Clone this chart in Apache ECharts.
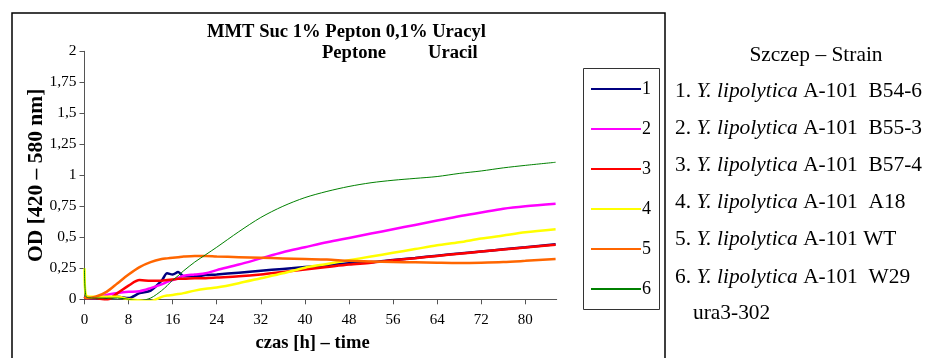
<!DOCTYPE html>
<html>
<head>
<meta charset="utf-8">
<script src="https://cdn.jsdelivr.net/npm/echarts@6/dist/echarts.min.js"></script>
<style>
  html, body { margin: 0; padding: 0; background: #fff; }
  #chart { width: 927px; height: 358px; }
</style>
</head>
<body>
<div id="chart"></div>
<script>
// sampling times [h]
const hours = [0, 0.3, 2, 4, 6, 8, 10, 12, 14, 15, 16, 17, 18, 20, 22, 24, 28, 32, 36, 40, 44, 48, 52, 56, 60, 64, 68, 72, 76, 80, 85.5]

// OD readings, one array per strain
const strain1 = [0.01, 0.01, 0.01, 0.01, 0.02, 0.01, 0.05, 0.07, 0.15, 0.21, 0.2, 0.22, 0.185, 0.185, 0.195, 0.2, 0.215, 0.23, 0.245, 0.26, 0.275, 0.29, 0.3, 0.317, 0.334, 0.352, 0.369, 0.386, 0.403, 0.42, 0.444]
const strain2 = [0.02, 0.01, 0.01, 0.035, 0.05, 0.06, 0.065, 0.09, 0.12, 0.14, 0.155, 0.17, 0.19, 0.2, 0.21, 0.235, 0.28, 0.33, 0.38, 0.42, 0.46, 0.495, 0.53, 0.565, 0.6, 0.635, 0.67, 0.7, 0.73, 0.75, 0.77]
const strain3 = [0.02, 0.01, 0.01, -0.005, 0.05, 0.11, 0.155, 0.15, 0.15, 0.155, 0.16, 0.165, 0.165, 0.17, 0.17, 0.175, 0.185, 0.2, 0.22, 0.24, 0.26, 0.28, 0.295, 0.315, 0.332, 0.35, 0.367, 0.385, 0.402, 0.418, 0.44]
const strain4 = [0.25, 0.03, 0.02, 0.02, 0.02, 0, -0.01, -0.015, 0.02, 0.03, 0.035, 0.042, 0.05, 0.07, 0.085, 0.095, 0.13, 0.17, 0.21, 0.255, 0.285, 0.315, 0.345, 0.375, 0.405, 0.435, 0.46, 0.49, 0.515, 0.54, 0.565]
const strain5 = [0.02, 0.01, 0.02, 0.06, 0.13, 0.2, 0.26, 0.3, 0.325, 0.33, 0.335, 0.34, 0.345, 0.35, 0.35, 0.345, 0.34, 0.335, 0.33, 0.325, 0.32, 0.31, 0.305, 0.3, 0.298, 0.295, 0.293, 0.295, 0.3, 0.31, 0.325]
const strain6 = [0.25, 0.02, 0.01, 0.01, 0.01, 0, -0.01, 0.01, 0.07, 0.11, 0.155, 0.19, 0.23, 0.3, 0.36, 0.42, 0.545, 0.66, 0.75, 0.82, 0.87, 0.91, 0.94, 0.96, 0.975, 0.99, 1.015, 1.035, 1.06, 1.08, 1.105]

const seriesNames = ["1", "2", "3", "4", "5", "6"]
const seriesColors = ["#000080", "#ff00ff", "#ff0000", "#ffff00", "#ff6600", "#008000"]
const seriesWidths = [2.5, 2.5, 2.5, 2.5, 2.5, 1]
const seriesValues = [strain1, strain2, strain3, strain4, strain5, strain6]

const xTicks = [0, 8, 16, 24, 32, 40, 48, 56, 64, 72, 80]

const strainHeader = "Szczep – Strain"
const strainNames = ["A-101  B54-6", "A-101  B55-3", "A-101  B57-4", "A-101  A18", "A-101 WT", "A-101  W29"]
const strainExtra = "ura3-302"

const serif = "Liberation Serif"
const chart = echarts.init(document.getElementById("chart"))

const strainText = strainNames.map((n, i) => ({
  type: "text",
  x: 675,
  y: 91 + i * 37.2,
  style: {
    text: (i + 1) + ". {i|Y. lipolytica} " + n,
    fontFamily: serif,
    fontSize: 21.4,
    fill: "#000",
    verticalAlign: "middle",
    rich: { i: { fontStyle: "italic", fontFamily: serif, fontSize: 21.4 } }
  }
}))

const titleStyle = { fontFamily: serif, fontWeight: "bold", fontSize: 18.6, color: "#000" }

const option = {
  animation: false,
  backgroundColor: "#fff",
  title: [
    { text: "MMT Suc 1% Pepton 0,1% Uracyl", left: 207, top: 23, padding: 0, textStyle: titleStyle },
    { text: "Peptone", left: 322, top: 44, padding: 0, textStyle: titleStyle },
    { text: "Uracil", left: 428, top: 44, padding: 0, textStyle: titleStyle }
  ],
  legend: {
    orient: "vertical",
    left: 590,
    top: 80,
    padding: 0,
    itemWidth: 50,
    itemHeight: 18,
    itemGap: 22,
    itemStyle: { opacity: 0 },
    textStyle: { fontFamily: serif, fontSize: 18, color: "#000", padding: [0, 0, 0, -4] },
    data: seriesNames
  },
  grid: { left: 84.5, top: 51.3, right: 370.3, bottom: 58.7 },
  xAxis: {
    type: "value",
    min: 0,
    max: 85.7,
    interval: 8,
    name: "czas [h] – time",
    nameLocation: "middle",
    nameGap: 34,
    nameMoveOverlap: false,
    nameTextStyle: { fontFamily: serif, fontWeight: "bold", fontSize: 18.6, color: "#000", padding: [0, 16, 0, 0] },
    axisLine: { lineStyle: { color: "#555", width: 1 } },
    axisTick: { length: 5, lineStyle: { color: "#555" }, customValues: xTicks },
    axisLabel: { fontFamily: serif, fontSize: 15, color: "#000", margin: 13, customValues: xTicks },
    splitLine: { show: false }
  },
  yAxis: {
    type: "value",
    min: 0,
    max: 2,
    interval: 0.25,
    name: "OD [420 – 580 nm]",
    nameLocation: "middle",
    nameGap: 37,
    nameMoveOverlap: false,
    nameTextStyle: { fontFamily: serif, fontWeight: "bold", fontSize: 21.5, color: "#000" },
    axisLine: { show: true, lineStyle: { color: "#555", width: 1 } },
    axisTick: { show: true, length: 5, lineStyle: { color: "#555" } },
    axisLabel: {
      fontFamily: serif, fontSize: 15.5, color: "#000", margin: 8,
      formatter: (v) => String(v).replace(".", ",")
    },
    splitLine: { show: false }
  },
  graphic: [
    { type: "rect", shape: { x: 12, y: 13, width: 653, height: 360 },
      style: { fill: "none", stroke: "#000", lineWidth: 1.5 } },
    { type: "rect", shape: { x: 583.5, y: 68.5, width: 76, height: 241 },
      style: { fill: "none", stroke: "#333", lineWidth: 1 } },
    { type: "text", x: 816, y: 55,
      style: { text: strainHeader, fontFamily: serif, fontSize: 21.4, fill: "#000", align: "center", verticalAlign: "middle" } },
    ...strainText,
    { type: "text", x: 693, y: 313,
      style: { text: strainExtra, fontFamily: serif, fontSize: 21.4, fill: "#000", verticalAlign: "middle" } }
  ],
  series: seriesNames.map((name, i) => ({
    name,
    type: "line",
    symbol: "none",
    smooth: 0.3,
    data: hours.map((h, k) => [h, seriesValues[i][k]]),
    itemStyle: { color: seriesColors[i] },
    lineStyle: { color: seriesColors[i], width: seriesWidths[i] }
  }))
}

chart.setOption(option)
</script>
</body>
</html>
